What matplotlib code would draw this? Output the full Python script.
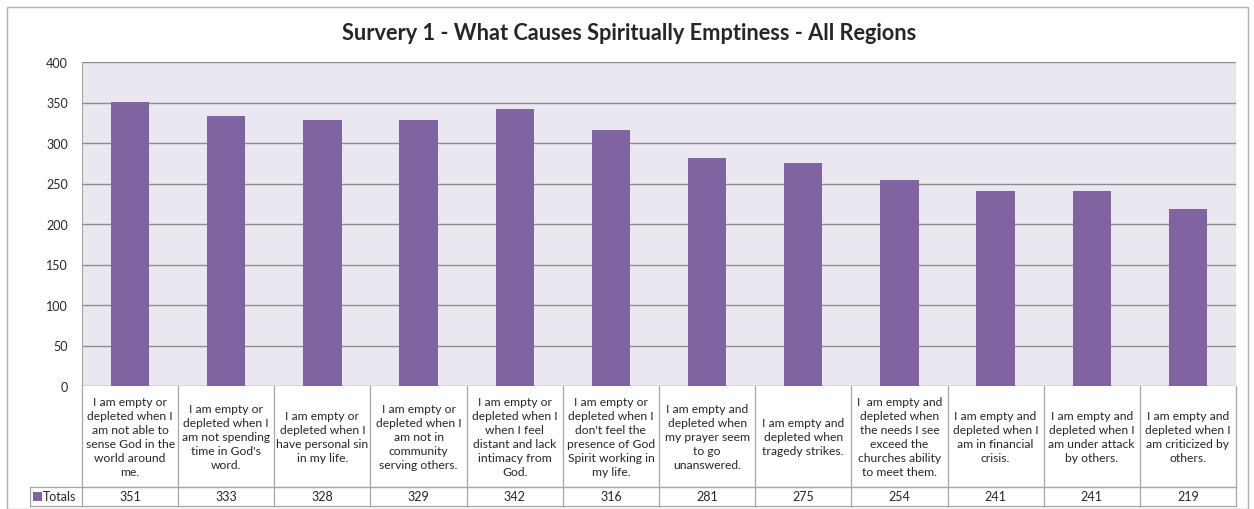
import matplotlib.pyplot as plt
from matplotlib.patches import Rectangle

plt.rcParams['font.family'] = ['Lato', 'DejaVu Sans']

# Survey data
categories = [
    "I am empty or\ndepleted when I\nam not able to\nsense God in the\nworld around\nme.",
    "I am empty or\ndepleted when I\nam not spending\ntime in God's\nword.",
    "I am empty or\ndepleted when I\nhave personal sin\nin my life.",
    "I am empty or\ndepleted when I\nam not in\ncommunity\nserving others.",
    "I am empty or\ndepleted when I\nwhen I feel\ndistant and lack\nintimacy from\nGod.",
    "I am empty or\ndepleted when I\ndon't feel the\npresence of God\nSpirit working in\nmy life.",
    "I am empty and\ndepleted when\nmy prayer seem\nto go\nunanswered.",
    "I am empty and\ndepleted when\ntragedy strikes.",
    "I  am empty and\ndepleted when\nthe needs I see\nexceed the\nchurches ability\nto meet them.",
    "I am empty and\ndepleted when I\nam in financial\ncrisis.",
    "I am empty and\ndepleted when I\nam under attack\nby others.",
    "I am empty and\ndepleted when I\nam criticized by\nothers.",
]
totals = [351, 333, 328, 329, 342, 316, 281, 275, 254, 241, 241, 219]
series_name = "Totals"
title = "Survery 1 - What Causes Spiritually Emptiness - All Regions"

W, H = 1254, 510
fig = plt.figure(figsize=(W / 100, H / 100), dpi=100)
fig.patch.set_facecolor('white')

# plot area in pixels
px_left, px_right, px_top, px_bottom = 82, 1236, 63, 387
ax = fig.add_axes([px_left / W, 1 - px_bottom / H,
                   (px_right - px_left) / W, (px_bottom - px_top) / H])
ax.set_facecolor('#ebe7f0')

bar_color = '#8064a2'
line_color = '#a6a6a6'
text_color = '#262626'
n = len(totals)
xs = list(range(n))
ax.bar(xs, totals, width=0.4, color=bar_color, zorder=3)
ax.set_xlim(-0.5, n - 0.5)
ax.set_ylim(0, 400)
ax.set_yticks(range(0, 401, 50))
ax.yaxis.grid(True, color='#8c8c8c', linewidth=1.0, zorder=0)
ax.set_axisbelow(True)
ax.tick_params(axis='y', length=0, labelsize=9, pad=10, colors=text_color)
ax.tick_params(axis='x', length=0, labelbottom=False)
for side in ['top', 'right', 'bottom']:
    ax.spines[side].set_visible(False)
ax.spines['left'].set_color(line_color)

# data table under the plot (x in data units, y in axes units)
trans = ax.get_xaxis_transform()
ax_h = px_bottom - px_top
row1_bot = -(488 - px_bottom) / ax_h
row2_bot = -(507 - px_bottom) / ax_h
col_w_px = (px_right - px_left) / n
hdr_left = -0.5 - (px_left - 30) / col_w_px

kw = dict(transform=trans, clip_on=False, color=line_color, linewidth=0.9)
ax.plot([-0.5, n - 0.5], [row1_bot, row1_bot], **kw)
ax.plot([hdr_left, n - 0.5], [row1_bot, row1_bot], **kw)
ax.plot([hdr_left, n - 0.5], [row2_bot, row2_bot], **kw)
ax.plot([hdr_left, hdr_left], [row1_bot, row2_bot], **kw)
for i in range(n + 1):
    ax.plot([i - 0.5, i - 0.5], [0, row2_bot], **kw)

for i, (cat, val) in enumerate(zip(categories, totals)):
    ax.text(i, row1_bot / 2, cat, transform=trans, ha='center', va='center',
            fontsize=8.7, color=text_color, linespacing=1.33, clip_on=False)
    ax.text(i, (row1_bot + row2_bot) / 2, str(val), transform=trans,
            ha='center', va='center', fontsize=9, color=text_color)

# legend key in the header cell
mid = (row1_bot + row2_bot) / 2
key_x = hdr_left + 0.035
ax.add_patch(Rectangle((key_x, mid - 0.014), 0.085, 0.028, transform=trans,
                       facecolor=bar_color, edgecolor='none', clip_on=False))
ax.text(key_x + 0.1, mid, series_name, transform=trans, ha='left',
        va='center', fontsize=9, color=text_color)

fig.text(629 / W, 1 - 33 / H, title, ha='center', va='center',
         fontsize=15.7, fontweight='bold', color=text_color)

# outer chart border
fig.patches.append(Rectangle((7 / W, 0.0), (1248 - 7) / W, 1 - 8 / H,
                             transform=fig.transFigure, fill=False,
                             edgecolor='#b0b0b0', linewidth=1.0))

fig.savefig('out.png', dpi=100)
